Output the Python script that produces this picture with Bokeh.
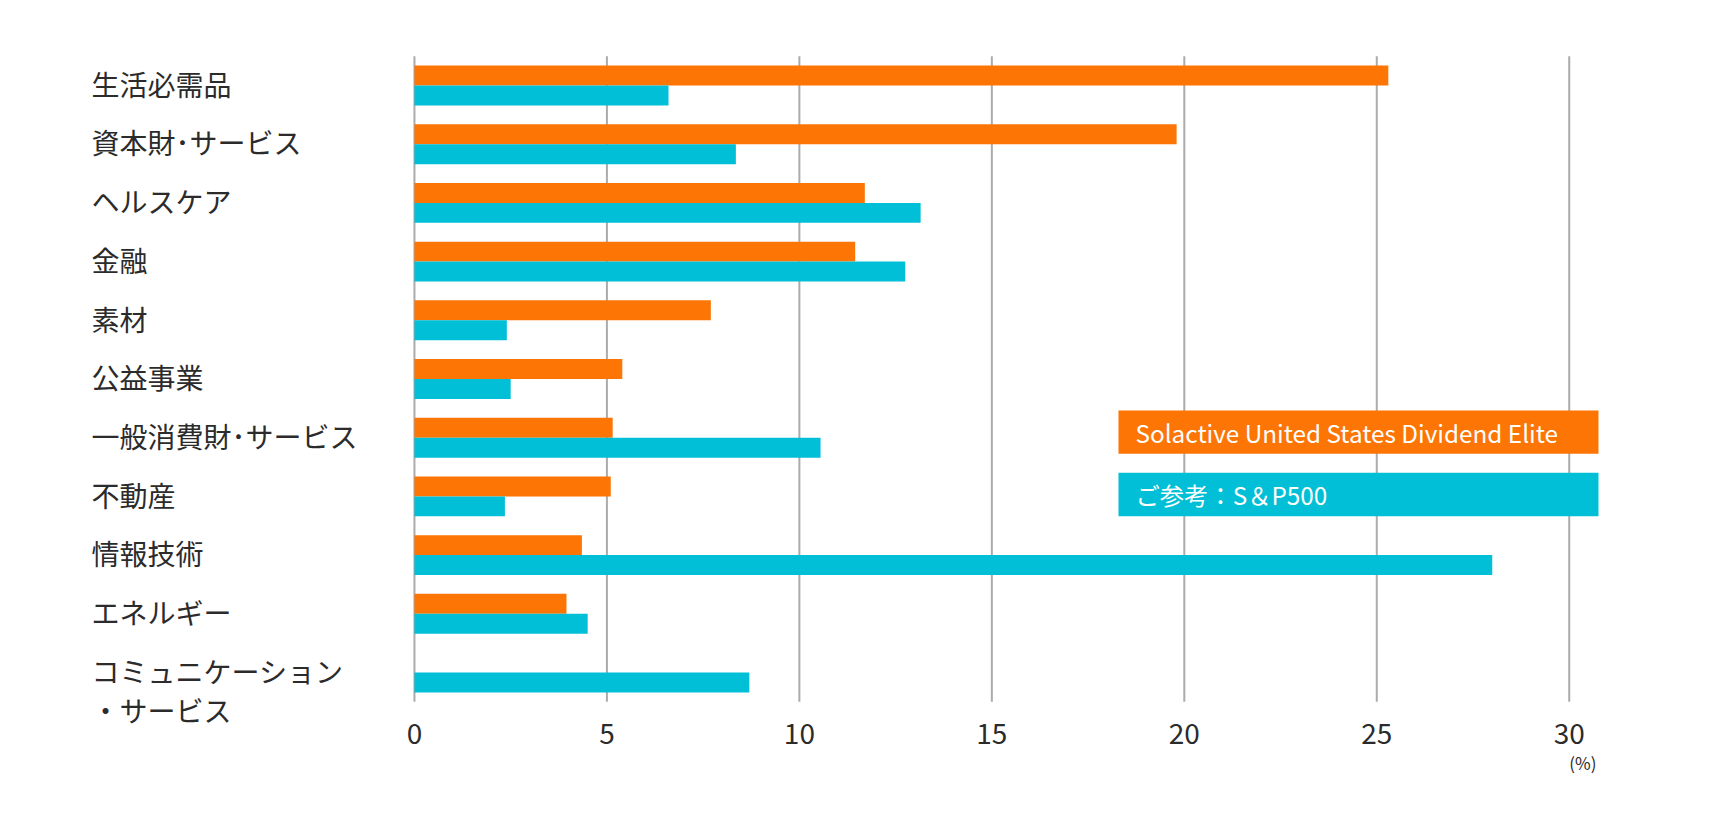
from bokeh.plotting import figure
from bokeh.models import Range1d
from bokeh.core.properties import value
from bokeh.embed import file_html
from bokeh.resources import INLINE

# ---------------- data ----------------
categories = ["生活必需品", "資本財･サービス", "ヘルスケア", "金融", "素材", "公益事業",
              "一般消費財･サービス", "不動産", "情報技術", "エネルギー",
              "コミュニケーション\n・サービス"]
solactive = [25.3, 19.8, 11.7, 11.45, 7.7, 5.4, 5.15, 5.1, 4.35, 3.95, 0.0]
sp500 = [6.6, 8.35, 13.15, 12.75, 2.4, 2.5, 10.55, 2.35, 28.0, 4.5, 8.7]
x_ticks = [0, 5, 10, 15, 20, 25, 30]
tick_labels = [str(t) for t in x_ticks]
series_names = ["Solactive United States Dividend Elite", "ご参考：S＆P500"]
unit_label = "(%)"

# ---------------- style / layout ----------------
FONT = value("Noto Sans CJK JP")
ORANGE = "#FD7504"
CYAN = "#00BFD6"
GRID = "#ABABAB"
TEXT = "#2B2B2B"
BAR_H = 0.34
LABEL_X = -8.39          # left edge of category labels (data units)
LABEL_DY = -0.03
LINE_STEP = 0.661        # second line of a two-line category label
TICK_Y = 11.035          # row of the x tick labels
UNIT_Y = 11.54
LEG_LEFT, LEG_RIGHT = 18.29, 30.76
LEG_ROWS = [(5.537, 6.274), (6.598, 7.337)]

n = len(categories)
p = figure(frame_width=1600, frame_height=777,
           x_range=Range1d(-10.546, 31.02), y_range=Range1d(11.925, -1.312),
           x_axis_location=None, y_axis_location=None,
           toolbar_location=None, output_backend="svg",
           min_border=0, min_border_left=8, min_border_top=8)
p.outline_line_color = None
p.xgrid.visible = False
p.ygrid.visible = False

# vertical grid lines at the tick positions
p.segment(x0=x_ticks, y0=[-0.5] * len(x_ticks), x1=x_ticks, y1=[n - 0.5] * len(x_ticks),
          line_color=GRID, line_width=2)

# bars
idx = list(range(n))
p.hbar(y=[i - BAR_H / 2 for i in idx], left=0, right=solactive, height=BAR_H,
       fill_color=ORANGE, line_color=None)
p.hbar(y=[i + BAR_H / 2 for i in idx], left=0, right=sp500, height=BAR_H,
       fill_color=CYAN, line_color=None)

# x tick labels
p.text(x=x_ticks, y=[TICK_Y] * len(x_ticks), text=tick_labels, text_align="center",
       text_baseline="middle", text_font=FONT, text_font_size="28px", text_color=TEXT)

# unit label
p.text(x=[x_ticks[-1]], y=[UNIT_Y], text=[unit_label], text_align="left",
       text_baseline="middle", text_font=FONT, text_font_size="17px", text_color=TEXT)

# category labels (left-aligned, possibly two lines)
lx, ly, lt = [], [], []
for i, c in enumerate(categories):
    for j, line in enumerate(c.split("\n")):
        lx.append(LABEL_X)
        ly.append(i + LABEL_DY + j * LINE_STEP)
        lt.append(line)
p.text(x=lx, y=ly, text=lt, text_align="left", text_baseline="middle",
       text_font=FONT, text_font_size="28px", text_color=TEXT)

# legend boxes
for (top, bottom), color, name in zip(LEG_ROWS, [ORANGE, CYAN], series_names):
    p.quad(left=[LEG_LEFT], right=[LEG_RIGHT], top=[top], bottom=[bottom],
           fill_color=color, line_color=None)
    p.text(x=[LEG_LEFT], y=[(top + bottom) / 2], x_offset=17, text=[name],
           text_align="left", text_baseline="middle", text_font=FONT,
           text_font_size="24.3px", text_color="white")

open("out.html", "w").write(file_html(p, INLINE))
